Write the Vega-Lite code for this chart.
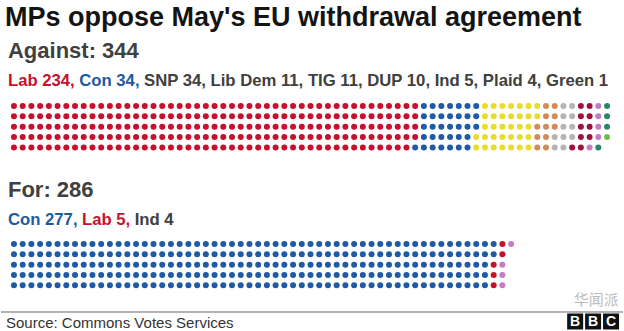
{
"$schema": "https://vega.github.io/schema/vega-lite/v6.json",
"width": 624, "height": 331,
"autosize": {"type": "fit", "contains": "padding"},
"padding": 0,
"background": "white",
"config": {"view": {"stroke": null}, "font": "Liberation Sans"},
"datasets": {
"dots": [
{"side":"Against","party":"Lab"},{"side":"Against","party":"Lab"},{"side":"Against","party":"Lab"},{"side":"Against","party":"Lab"},{"side":"Against","party":"Lab"},{"side":"Against","party":"Lab"},{"side":"Against","party":"Lab"},{"side":"Against","party":"Lab"},{"side":"Against","party":"Lab"},{"side":"Against","party":"Lab"},
{"side":"Against","party":"Lab"},{"side":"Against","party":"Lab"},{"side":"Against","party":"Lab"},{"side":"Against","party":"Lab"},{"side":"Against","party":"Lab"},{"side":"Against","party":"Lab"},{"side":"Against","party":"Lab"},{"side":"Against","party":"Lab"},{"side":"Against","party":"Lab"},{"side":"Against","party":"Lab"},
{"side":"Against","party":"Lab"},{"side":"Against","party":"Lab"},{"side":"Against","party":"Lab"},{"side":"Against","party":"Lab"},{"side":"Against","party":"Lab"},{"side":"Against","party":"Lab"},{"side":"Against","party":"Lab"},{"side":"Against","party":"Lab"},{"side":"Against","party":"Lab"},{"side":"Against","party":"Lab"},
{"side":"Against","party":"Lab"},{"side":"Against","party":"Lab"},{"side":"Against","party":"Lab"},{"side":"Against","party":"Lab"},{"side":"Against","party":"Lab"},{"side":"Against","party":"Lab"},{"side":"Against","party":"Lab"},{"side":"Against","party":"Lab"},{"side":"Against","party":"Lab"},{"side":"Against","party":"Lab"},
{"side":"Against","party":"Lab"},{"side":"Against","party":"Lab"},{"side":"Against","party":"Lab"},{"side":"Against","party":"Lab"},{"side":"Against","party":"Lab"},{"side":"Against","party":"Lab"},{"side":"Against","party":"Lab"},{"side":"Against","party":"Lab"},{"side":"Against","party":"Lab"},{"side":"Against","party":"Lab"},
{"side":"Against","party":"Lab"},{"side":"Against","party":"Lab"},{"side":"Against","party":"Lab"},{"side":"Against","party":"Lab"},{"side":"Against","party":"Lab"},{"side":"Against","party":"Lab"},{"side":"Against","party":"Lab"},{"side":"Against","party":"Lab"},{"side":"Against","party":"Lab"},{"side":"Against","party":"Lab"},
{"side":"Against","party":"Lab"},{"side":"Against","party":"Lab"},{"side":"Against","party":"Lab"},{"side":"Against","party":"Lab"},{"side":"Against","party":"Lab"},{"side":"Against","party":"Lab"},{"side":"Against","party":"Lab"},{"side":"Against","party":"Lab"},{"side":"Against","party":"Lab"},{"side":"Against","party":"Lab"},
{"side":"Against","party":"Lab"},{"side":"Against","party":"Lab"},{"side":"Against","party":"Lab"},{"side":"Against","party":"Lab"},{"side":"Against","party":"Lab"},{"side":"Against","party":"Lab"},{"side":"Against","party":"Lab"},{"side":"Against","party":"Lab"},{"side":"Against","party":"Lab"},{"side":"Against","party":"Lab"},
{"side":"Against","party":"Lab"},{"side":"Against","party":"Lab"},{"side":"Against","party":"Lab"},{"side":"Against","party":"Lab"},{"side":"Against","party":"Lab"},{"side":"Against","party":"Lab"},{"side":"Against","party":"Lab"},{"side":"Against","party":"Lab"},{"side":"Against","party":"Lab"},{"side":"Against","party":"Lab"},
{"side":"Against","party":"Lab"},{"side":"Against","party":"Lab"},{"side":"Against","party":"Lab"},{"side":"Against","party":"Lab"},{"side":"Against","party":"Lab"},{"side":"Against","party":"Lab"},{"side":"Against","party":"Lab"},{"side":"Against","party":"Lab"},{"side":"Against","party":"Lab"},{"side":"Against","party":"Lab"},
{"side":"Against","party":"Lab"},{"side":"Against","party":"Lab"},{"side":"Against","party":"Lab"},{"side":"Against","party":"Lab"},{"side":"Against","party":"Lab"},{"side":"Against","party":"Lab"},{"side":"Against","party":"Lab"},{"side":"Against","party":"Lab"},{"side":"Against","party":"Lab"},{"side":"Against","party":"Lab"},
{"side":"Against","party":"Lab"},{"side":"Against","party":"Lab"},{"side":"Against","party":"Lab"},{"side":"Against","party":"Lab"},{"side":"Against","party":"Lab"},{"side":"Against","party":"Lab"},{"side":"Against","party":"Lab"},{"side":"Against","party":"Lab"},{"side":"Against","party":"Lab"},{"side":"Against","party":"Lab"},
{"side":"Against","party":"Lab"},{"side":"Against","party":"Lab"},{"side":"Against","party":"Lab"},{"side":"Against","party":"Lab"},{"side":"Against","party":"Lab"},{"side":"Against","party":"Lab"},{"side":"Against","party":"Lab"},{"side":"Against","party":"Lab"},{"side":"Against","party":"Lab"},{"side":"Against","party":"Lab"},
{"side":"Against","party":"Lab"},{"side":"Against","party":"Lab"},{"side":"Against","party":"Lab"},{"side":"Against","party":"Lab"},{"side":"Against","party":"Lab"},{"side":"Against","party":"Lab"},{"side":"Against","party":"Lab"},{"side":"Against","party":"Lab"},{"side":"Against","party":"Lab"},{"side":"Against","party":"Lab"},
{"side":"Against","party":"Lab"},{"side":"Against","party":"Lab"},{"side":"Against","party":"Lab"},{"side":"Against","party":"Lab"},{"side":"Against","party":"Lab"},{"side":"Against","party":"Lab"},{"side":"Against","party":"Lab"},{"side":"Against","party":"Lab"},{"side":"Against","party":"Lab"},{"side":"Against","party":"Lab"},
{"side":"Against","party":"Lab"},{"side":"Against","party":"Lab"},{"side":"Against","party":"Lab"},{"side":"Against","party":"Lab"},{"side":"Against","party":"Lab"},{"side":"Against","party":"Lab"},{"side":"Against","party":"Lab"},{"side":"Against","party":"Lab"},{"side":"Against","party":"Lab"},{"side":"Against","party":"Lab"},
{"side":"Against","party":"Lab"},{"side":"Against","party":"Lab"},{"side":"Against","party":"Lab"},{"side":"Against","party":"Lab"},{"side":"Against","party":"Lab"},{"side":"Against","party":"Lab"},{"side":"Against","party":"Lab"},{"side":"Against","party":"Lab"},{"side":"Against","party":"Lab"},{"side":"Against","party":"Lab"},
{"side":"Against","party":"Lab"},{"side":"Against","party":"Lab"},{"side":"Against","party":"Lab"},{"side":"Against","party":"Lab"},{"side":"Against","party":"Lab"},{"side":"Against","party":"Lab"},{"side":"Against","party":"Lab"},{"side":"Against","party":"Lab"},{"side":"Against","party":"Lab"},{"side":"Against","party":"Lab"},
{"side":"Against","party":"Lab"},{"side":"Against","party":"Lab"},{"side":"Against","party":"Lab"},{"side":"Against","party":"Lab"},{"side":"Against","party":"Lab"},{"side":"Against","party":"Lab"},{"side":"Against","party":"Lab"},{"side":"Against","party":"Lab"},{"side":"Against","party":"Lab"},{"side":"Against","party":"Lab"},
{"side":"Against","party":"Lab"},{"side":"Against","party":"Lab"},{"side":"Against","party":"Lab"},{"side":"Against","party":"Lab"},{"side":"Against","party":"Lab"},{"side":"Against","party":"Lab"},{"side":"Against","party":"Lab"},{"side":"Against","party":"Lab"},{"side":"Against","party":"Lab"},{"side":"Against","party":"Lab"},
{"side":"Against","party":"Lab"},{"side":"Against","party":"Lab"},{"side":"Against","party":"Lab"},{"side":"Against","party":"Lab"},{"side":"Against","party":"Lab"},{"side":"Against","party":"Lab"},{"side":"Against","party":"Lab"},{"side":"Against","party":"Lab"},{"side":"Against","party":"Lab"},{"side":"Against","party":"Lab"},
{"side":"Against","party":"Lab"},{"side":"Against","party":"Lab"},{"side":"Against","party":"Lab"},{"side":"Against","party":"Lab"},{"side":"Against","party":"Lab"},{"side":"Against","party":"Lab"},{"side":"Against","party":"Lab"},{"side":"Against","party":"Lab"},{"side":"Against","party":"Lab"},{"side":"Against","party":"Lab"},
{"side":"Against","party":"Lab"},{"side":"Against","party":"Lab"},{"side":"Against","party":"Lab"},{"side":"Against","party":"Lab"},{"side":"Against","party":"Lab"},{"side":"Against","party":"Lab"},{"side":"Against","party":"Lab"},{"side":"Against","party":"Lab"},{"side":"Against","party":"Lab"},{"side":"Against","party":"Lab"},
{"side":"Against","party":"Lab"},{"side":"Against","party":"Lab"},{"side":"Against","party":"Lab"},{"side":"Against","party":"Lab"},
{"side":"Against","party":"Con"},{"side":"Against","party":"Con"},{"side":"Against","party":"Con"},{"side":"Against","party":"Con"},{"side":"Against","party":"Con"},{"side":"Against","party":"Con"},{"side":"Against","party":"Con"},{"side":"Against","party":"Con"},{"side":"Against","party":"Con"},{"side":"Against","party":"Con"},
{"side":"Against","party":"Con"},{"side":"Against","party":"Con"},{"side":"Against","party":"Con"},{"side":"Against","party":"Con"},{"side":"Against","party":"Con"},{"side":"Against","party":"Con"},{"side":"Against","party":"Con"},{"side":"Against","party":"Con"},{"side":"Against","party":"Con"},{"side":"Against","party":"Con"},
{"side":"Against","party":"Con"},{"side":"Against","party":"Con"},{"side":"Against","party":"Con"},{"side":"Against","party":"Con"},{"side":"Against","party":"Con"},{"side":"Against","party":"Con"},{"side":"Against","party":"Con"},{"side":"Against","party":"Con"},{"side":"Against","party":"Con"},{"side":"Against","party":"Con"},
{"side":"Against","party":"Con"},{"side":"Against","party":"Con"},{"side":"Against","party":"Con"},{"side":"Against","party":"Con"},
{"side":"Against","party":"SNP"},{"side":"Against","party":"SNP"},{"side":"Against","party":"SNP"},{"side":"Against","party":"SNP"},{"side":"Against","party":"SNP"},{"side":"Against","party":"SNP"},{"side":"Against","party":"SNP"},{"side":"Against","party":"SNP"},{"side":"Against","party":"SNP"},{"side":"Against","party":"SNP"},
{"side":"Against","party":"SNP"},{"side":"Against","party":"SNP"},{"side":"Against","party":"SNP"},{"side":"Against","party":"SNP"},{"side":"Against","party":"SNP"},{"side":"Against","party":"SNP"},{"side":"Against","party":"SNP"},{"side":"Against","party":"SNP"},{"side":"Against","party":"SNP"},{"side":"Against","party":"SNP"},
{"side":"Against","party":"SNP"},{"side":"Against","party":"SNP"},{"side":"Against","party":"SNP"},{"side":"Against","party":"SNP"},{"side":"Against","party":"SNP"},{"side":"Against","party":"SNP"},{"side":"Against","party":"SNP"},{"side":"Against","party":"SNP"},{"side":"Against","party":"SNP"},{"side":"Against","party":"SNP"},
{"side":"Against","party":"SNP"},{"side":"Against","party":"SNP"},{"side":"Against","party":"SNP"},{"side":"Against","party":"SNP"},
{"side":"Against","party":"Lib Dem"},{"side":"Against","party":"Lib Dem"},{"side":"Against","party":"Lib Dem"},{"side":"Against","party":"Lib Dem"},{"side":"Against","party":"Lib Dem"},{"side":"Against","party":"Lib Dem"},{"side":"Against","party":"Lib Dem"},{"side":"Against","party":"Lib Dem"},{"side":"Against","party":"Lib Dem"},{"side":"Against","party":"Lib Dem"},
{"side":"Against","party":"Lib Dem"},
{"side":"Against","party":"TIG"},{"side":"Against","party":"TIG"},{"side":"Against","party":"TIG"},{"side":"Against","party":"TIG"},{"side":"Against","party":"TIG"},{"side":"Against","party":"TIG"},{"side":"Against","party":"TIG"},{"side":"Against","party":"TIG"},{"side":"Against","party":"TIG"},{"side":"Against","party":"TIG"},
{"side":"Against","party":"TIG"},
{"side":"Against","party":"DUP"},{"side":"Against","party":"DUP"},{"side":"Against","party":"DUP"},{"side":"Against","party":"DUP"},{"side":"Against","party":"DUP"},{"side":"Against","party":"DUP"},{"side":"Against","party":"DUP"},{"side":"Against","party":"DUP"},{"side":"Against","party":"DUP"},{"side":"Against","party":"DUP"},
{"side":"Against","party":"Ind"},{"side":"Against","party":"Ind"},{"side":"Against","party":"Ind"},{"side":"Against","party":"Ind"},{"side":"Against","party":"Ind"},
{"side":"Against","party":"Plaid"},{"side":"Against","party":"Plaid"},{"side":"Against","party":"Plaid"},{"side":"Against","party":"Plaid"},
{"side":"Against","party":"Green"},
{"side":"For","party":"Con"},{"side":"For","party":"Con"},{"side":"For","party":"Con"},{"side":"For","party":"Con"},{"side":"For","party":"Con"},{"side":"For","party":"Con"},{"side":"For","party":"Con"},{"side":"For","party":"Con"},{"side":"For","party":"Con"},{"side":"For","party":"Con"},
{"side":"For","party":"Con"},{"side":"For","party":"Con"},{"side":"For","party":"Con"},{"side":"For","party":"Con"},{"side":"For","party":"Con"},{"side":"For","party":"Con"},{"side":"For","party":"Con"},{"side":"For","party":"Con"},{"side":"For","party":"Con"},{"side":"For","party":"Con"},
{"side":"For","party":"Con"},{"side":"For","party":"Con"},{"side":"For","party":"Con"},{"side":"For","party":"Con"},{"side":"For","party":"Con"},{"side":"For","party":"Con"},{"side":"For","party":"Con"},{"side":"For","party":"Con"},{"side":"For","party":"Con"},{"side":"For","party":"Con"},
{"side":"For","party":"Con"},{"side":"For","party":"Con"},{"side":"For","party":"Con"},{"side":"For","party":"Con"},{"side":"For","party":"Con"},{"side":"For","party":"Con"},{"side":"For","party":"Con"},{"side":"For","party":"Con"},{"side":"For","party":"Con"},{"side":"For","party":"Con"},
{"side":"For","party":"Con"},{"side":"For","party":"Con"},{"side":"For","party":"Con"},{"side":"For","party":"Con"},{"side":"For","party":"Con"},{"side":"For","party":"Con"},{"side":"For","party":"Con"},{"side":"For","party":"Con"},{"side":"For","party":"Con"},{"side":"For","party":"Con"},
{"side":"For","party":"Con"},{"side":"For","party":"Con"},{"side":"For","party":"Con"},{"side":"For","party":"Con"},{"side":"For","party":"Con"},{"side":"For","party":"Con"},{"side":"For","party":"Con"},{"side":"For","party":"Con"},{"side":"For","party":"Con"},{"side":"For","party":"Con"},
{"side":"For","party":"Con"},{"side":"For","party":"Con"},{"side":"For","party":"Con"},{"side":"For","party":"Con"},{"side":"For","party":"Con"},{"side":"For","party":"Con"},{"side":"For","party":"Con"},{"side":"For","party":"Con"},{"side":"For","party":"Con"},{"side":"For","party":"Con"},
{"side":"For","party":"Con"},{"side":"For","party":"Con"},{"side":"For","party":"Con"},{"side":"For","party":"Con"},{"side":"For","party":"Con"},{"side":"For","party":"Con"},{"side":"For","party":"Con"},{"side":"For","party":"Con"},{"side":"For","party":"Con"},{"side":"For","party":"Con"},
{"side":"For","party":"Con"},{"side":"For","party":"Con"},{"side":"For","party":"Con"},{"side":"For","party":"Con"},{"side":"For","party":"Con"},{"side":"For","party":"Con"},{"side":"For","party":"Con"},{"side":"For","party":"Con"},{"side":"For","party":"Con"},{"side":"For","party":"Con"},
{"side":"For","party":"Con"},{"side":"For","party":"Con"},{"side":"For","party":"Con"},{"side":"For","party":"Con"},{"side":"For","party":"Con"},{"side":"For","party":"Con"},{"side":"For","party":"Con"},{"side":"For","party":"Con"},{"side":"For","party":"Con"},{"side":"For","party":"Con"},
{"side":"For","party":"Con"},{"side":"For","party":"Con"},{"side":"For","party":"Con"},{"side":"For","party":"Con"},{"side":"For","party":"Con"},{"side":"For","party":"Con"},{"side":"For","party":"Con"},{"side":"For","party":"Con"},{"side":"For","party":"Con"},{"side":"For","party":"Con"},
{"side":"For","party":"Con"},{"side":"For","party":"Con"},{"side":"For","party":"Con"},{"side":"For","party":"Con"},{"side":"For","party":"Con"},{"side":"For","party":"Con"},{"side":"For","party":"Con"},{"side":"For","party":"Con"},{"side":"For","party":"Con"},{"side":"For","party":"Con"},
{"side":"For","party":"Con"},{"side":"For","party":"Con"},{"side":"For","party":"Con"},{"side":"For","party":"Con"},{"side":"For","party":"Con"},{"side":"For","party":"Con"},{"side":"For","party":"Con"},{"side":"For","party":"Con"},{"side":"For","party":"Con"},{"side":"For","party":"Con"},
{"side":"For","party":"Con"},{"side":"For","party":"Con"},{"side":"For","party":"Con"},{"side":"For","party":"Con"},{"side":"For","party":"Con"},{"side":"For","party":"Con"},{"side":"For","party":"Con"},{"side":"For","party":"Con"},{"side":"For","party":"Con"},{"side":"For","party":"Con"},
{"side":"For","party":"Con"},{"side":"For","party":"Con"},{"side":"For","party":"Con"},{"side":"For","party":"Con"},{"side":"For","party":"Con"},{"side":"For","party":"Con"},{"side":"For","party":"Con"},{"side":"For","party":"Con"},{"side":"For","party":"Con"},{"side":"For","party":"Con"},
{"side":"For","party":"Con"},{"side":"For","party":"Con"},{"side":"For","party":"Con"},{"side":"For","party":"Con"},{"side":"For","party":"Con"},{"side":"For","party":"Con"},{"side":"For","party":"Con"},{"side":"For","party":"Con"},{"side":"For","party":"Con"},{"side":"For","party":"Con"},
{"side":"For","party":"Con"},{"side":"For","party":"Con"},{"side":"For","party":"Con"},{"side":"For","party":"Con"},{"side":"For","party":"Con"},{"side":"For","party":"Con"},{"side":"For","party":"Con"},{"side":"For","party":"Con"},{"side":"For","party":"Con"},{"side":"For","party":"Con"},
{"side":"For","party":"Con"},{"side":"For","party":"Con"},{"side":"For","party":"Con"},{"side":"For","party":"Con"},{"side":"For","party":"Con"},{"side":"For","party":"Con"},{"side":"For","party":"Con"},{"side":"For","party":"Con"},{"side":"For","party":"Con"},{"side":"For","party":"Con"},
{"side":"For","party":"Con"},{"side":"For","party":"Con"},{"side":"For","party":"Con"},{"side":"For","party":"Con"},{"side":"For","party":"Con"},{"side":"For","party":"Con"},{"side":"For","party":"Con"},{"side":"For","party":"Con"},{"side":"For","party":"Con"},{"side":"For","party":"Con"},
{"side":"For","party":"Con"},{"side":"For","party":"Con"},{"side":"For","party":"Con"},{"side":"For","party":"Con"},{"side":"For","party":"Con"},{"side":"For","party":"Con"},{"side":"For","party":"Con"},{"side":"For","party":"Con"},{"side":"For","party":"Con"},{"side":"For","party":"Con"},
{"side":"For","party":"Con"},{"side":"For","party":"Con"},{"side":"For","party":"Con"},{"side":"For","party":"Con"},{"side":"For","party":"Con"},{"side":"For","party":"Con"},{"side":"For","party":"Con"},{"side":"For","party":"Con"},{"side":"For","party":"Con"},{"side":"For","party":"Con"},
{"side":"For","party":"Con"},{"side":"For","party":"Con"},{"side":"For","party":"Con"},{"side":"For","party":"Con"},{"side":"For","party":"Con"},{"side":"For","party":"Con"},{"side":"For","party":"Con"},{"side":"For","party":"Con"},{"side":"For","party":"Con"},{"side":"For","party":"Con"},
{"side":"For","party":"Con"},{"side":"For","party":"Con"},{"side":"For","party":"Con"},{"side":"For","party":"Con"},{"side":"For","party":"Con"},{"side":"For","party":"Con"},{"side":"For","party":"Con"},{"side":"For","party":"Con"},{"side":"For","party":"Con"},{"side":"For","party":"Con"},
{"side":"For","party":"Con"},{"side":"For","party":"Con"},{"side":"For","party":"Con"},{"side":"For","party":"Con"},{"side":"For","party":"Con"},{"side":"For","party":"Con"},{"side":"For","party":"Con"},{"side":"For","party":"Con"},{"side":"For","party":"Con"},{"side":"For","party":"Con"},
{"side":"For","party":"Con"},{"side":"For","party":"Con"},{"side":"For","party":"Con"},{"side":"For","party":"Con"},{"side":"For","party":"Con"},{"side":"For","party":"Con"},{"side":"For","party":"Con"},{"side":"For","party":"Con"},{"side":"For","party":"Con"},{"side":"For","party":"Con"},
{"side":"For","party":"Con"},{"side":"For","party":"Con"},{"side":"For","party":"Con"},{"side":"For","party":"Con"},{"side":"For","party":"Con"},{"side":"For","party":"Con"},{"side":"For","party":"Con"},{"side":"For","party":"Con"},{"side":"For","party":"Con"},{"side":"For","party":"Con"},
{"side":"For","party":"Con"},{"side":"For","party":"Con"},{"side":"For","party":"Con"},{"side":"For","party":"Con"},{"side":"For","party":"Con"},{"side":"For","party":"Con"},{"side":"For","party":"Con"},{"side":"For","party":"Con"},{"side":"For","party":"Con"},{"side":"For","party":"Con"},
{"side":"For","party":"Con"},{"side":"For","party":"Con"},{"side":"For","party":"Con"},{"side":"For","party":"Con"},{"side":"For","party":"Con"},{"side":"For","party":"Con"},{"side":"For","party":"Con"},
{"side":"For","party":"Lab"},{"side":"For","party":"Lab"},{"side":"For","party":"Lab"},{"side":"For","party":"Lab"},{"side":"For","party":"Lab"},
{"side":"For","party":"Ind"},{"side":"For","party":"Ind"},{"side":"For","party":"Ind"},{"side":"For","party":"Ind"}
],
"logo": [{"letter":"B"},{"letter":"B"},{"letter":"C"}]
},
"layer": [
{
"data": {"name": "dots"},
"transform": [
{"window": [{"op": "row_number", "as": "idx"}], "groupby": ["side"]},
{"calculate": "floor((datum.idx - 1) / 5)", "as": "col"},
{"calculate": "(datum.idx - 1) % 5 + (datum.side === 'For' ? 13.33 : 0)", "as": "rowpos"}
],
"mark": {"type": "circle", "size": 36, "opacity": 1},
"encoding": {
"x": {"field": "col", "type": "quantitative", "scale": {"domain": [-1.4857, 69.8286], "nice": false, "zero": false}, "axis": null},
"y": {"field": "rowpos", "type": "quantitative", "scale": {"domain": [-10.2415, 21.739], "nice": false, "zero": false, "reverse": true}, "axis": null},
"color": {"field": "party", "type": "nominal", "legend": null,
"scale": {"domain": ["Lab", "Con", "SNP", "Lib Dem", "TIG", "DUP", "Ind", "Plaid", "Green"],
"range": ["#c8102e", "#1f5aa6", "#e9dc2f", "#d48a55", "#b4b4b4", "#a0103c", "#c47cc2", "#25886a", "#6cbf45"]}}
}
},
{
"data": {"values": [{"t": "MPs oppose May's EU withdrawal agreement"}]},
"mark": {"type": "text", "align": "left", "baseline": "alphabetic", "fontSize": 27, "fontWeight": "bold", "color": "#141414"},
"encoding": {"x": {"datum": -1.029, "type": "quantitative"}, "y": {"datum": -7.73, "type": "quantitative"}, "text": {"field": "t"}}
},
{
"data": {"values": [{"t": "Against: 344"}]},
"mark": {"type": "text", "align": "left", "baseline": "alphabetic", "fontSize": 22, "fontWeight": "bold", "color": "#404040"},
"encoding": {"x": {"datum": -0.686, "type": "quantitative"}, "y": {"datum": -4.638, "type": "quantitative"}, "text": {"field": "t"}}
},
{
"data": {"values": [{"t": "Lab 234,"}]},
"mark": {"type": "text", "align": "left", "baseline": "alphabetic", "fontSize": 16.7, "fontWeight": "bold", "color": "#c8102e"},
"encoding": {"x": {"datum": -0.686, "type": "quantitative"}, "y": {"datum": -1.932, "type": "quantitative"}, "text": {"field": "t"}}
},
{
"data": {"values": [{"t": "Con 34,"}]},
"mark": {"type": "text", "align": "left", "baseline": "alphabetic", "fontSize": 16.7, "fontWeight": "bold", "color": "#1f5a9e"},
"encoding": {"x": {"datum": 7.486, "type": "quantitative"}, "y": {"datum": -1.932, "type": "quantitative"}, "text": {"field": "t"}}
},
{
"data": {"values": [{"t": "SNP 34, Lib Dem 11, TIG 11, DUP 10, Ind 5, Plaid 4, Green 1"}]},
"mark": {"type": "text", "align": "left", "baseline": "alphabetic", "fontSize": 16.7, "fontWeight": "bold", "color": "#404040"},
"encoding": {"x": {"datum": 14.914, "type": "quantitative"}, "y": {"datum": -1.932, "type": "quantitative"}, "text": {"field": "t"}}
},
{
"data": {"values": [{"t": "For: 286"}]},
"mark": {"type": "text", "align": "left", "baseline": "alphabetic", "fontSize": 22, "fontWeight": "bold", "color": "#404040"},
"encoding": {"x": {"datum": -0.686, "type": "quantitative"}, "y": {"datum": 8.792, "type": "quantitative"}, "text": {"field": "t"}}
},
{
"data": {"values": [{"t": "Con 277,"}]},
"mark": {"type": "text", "align": "left", "baseline": "alphabetic", "fontSize": 16.7, "fontWeight": "bold", "color": "#1f5a9e"},
"encoding": {"x": {"datum": -0.686, "type": "quantitative"}, "y": {"datum": 11.498, "type": "quantitative"}, "text": {"field": "t"}}
},
{
"data": {"values": [{"t": "Lab 5,"}]},
"mark": {"type": "text", "align": "left", "baseline": "alphabetic", "fontSize": 16.7, "fontWeight": "bold", "color": "#c8102e"},
"encoding": {"x": {"datum": 7.794, "type": "quantitative"}, "y": {"datum": 11.498, "type": "quantitative"}, "text": {"field": "t"}}
},
{
"data": {"values": [{"t": "Ind 4"}]},
"mark": {"type": "text", "align": "left", "baseline": "alphabetic", "fontSize": 16.7, "fontWeight": "bold", "color": "#404040"},
"encoding": {"x": {"datum": 13.84, "type": "quantitative"}, "y": {"datum": 11.498, "type": "quantitative"}, "text": {"field": "t"}}
},
{
"data": {"values": [{"t": "rule"}]},
"mark": {"type": "rule", "color": "#666666", "strokeWidth": 1},
"encoding": {"x": {"datum": -1.4857, "type": "quantitative"}, "x2": {"datum": 69.8286}, "y": {"datum": 19.903, "type": "quantitative"}}
},
{
"data": {"values": [{"t": "Source: Commons Votes Services"}]},
"mark": {"type": "text", "align": "left", "baseline": "alphabetic", "fontSize": 15, "color": "#333333"},
"encoding": {"x": {"datum": -0.914, "type": "quantitative"}, "y": {"datum": 21.449, "type": "quantitative"}, "text": {"field": "t"}}
},
{
"data": {"values": [{"t": "华闻派"}]},
"mark": {"type": "text", "align": "left", "baseline": "alphabetic", "fontSize": 15, "font": "Noto Sans CJK SC", "color": "#bcbcbc"},
"encoding": {"x": {"datum": 64.17, "type": "quantitative"}, "y": {"datum": 19.23, "type": "quantitative"}, "text": {"field": "t"}}
},
{
"data": {"name": "logo"},
"transform": [
{"window": [{"op": "row_number", "as": "n"}]},
{"calculate": "64.343 + (datum.n - 1) * 2.057", "as": "lx"}
],
"layer": [
{"mark": {"type": "square", "size": 256, "color": "#111111", "opacity": 1},
"encoding": {"x": {"field": "lx", "type": "quantitative"}, "y": {"datum": 20.82, "type": "quantitative"}}},
{"mark": {"type": "text", "align": "center", "baseline": "middle", "fontSize": 14, "fontWeight": "bold", "color": "white", "dy": 1},
"encoding": {"x": {"field": "lx", "type": "quantitative"}, "y": {"datum": 20.82, "type": "quantitative"}, "text": {"field": "letter"}}}
]
}
]
}
